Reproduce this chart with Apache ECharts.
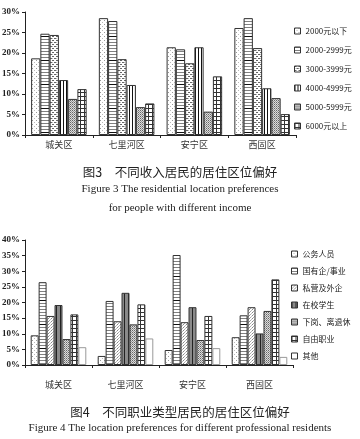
<!DOCTYPE html>
<html>
<head>
<meta charset="utf-8">
<script src="https://cdn.jsdelivr.net/npm/echarts@6/dist/echarts.min.js"></script>
<style>
html,body{margin:0;padding:0;background:#fff;}
#c{width:360px;height:439px;}
</style>
</head>
<body>
<div id="c"></div>
<script>
// ---- data ----
var categories = ['城关区', '七里河区', '安宁区', '西固区'];
var incomeNames = ['2000元以下', '2000-2999元', '3000-3999元', '4000-4999元', '5000-5999元', '6000元以上'];
var income1 = [18.7, 28.5, 21.4, 26.1];
var income2 = [24.7, 27.8, 20.9, 28.5];
var income3 = [24.4, 18.5, 17.5, 21.2];
var income4 = [13.4, 12.2, 21.4, 11.4];
var income5 = [8.8, 6.8, 5.7, 9.0];
var income6 = [11.2, 7.7, 14.3, 5.1];
var jobNames = ['公务人员', '国有企/事业', '私营及外企', '在校学生', '下岗、离退休', '自由职业', '其他'];
var job1 = [9.5, 2.9, 4.8, 8.9];
var job2 = [26.5, 20.5, 35.2, 15.9];
var job3 = [15.7, 14.0, 13.7, 18.5];
var job4 = [19.2, 23.1, 18.5, 10.1];
var job5 = [8.3, 13.0, 8.0, 17.3];
var job6 = [16.2, 19.4, 15.7, 27.4];
var job7 = [5.7, 8.5, 5.4, 2.6];
var incomeTicks = {min: 0, max: 30, interval: 5};
var jobTicks = {min: 0, max: 40, interval: 5};

// ---- patterns ----
function pat(w, h, bg, draw) {
  var c = document.createElement('canvas');
  c.width = w; c.height = h;
  var g = c.getContext('2d');
  g.fillStyle = bg; g.fillRect(0, 0, w, h);
  draw(g);
  return {image: c, repeat: 'repeat'};
}
function px(g, col, x, y, w, h) { g.fillStyle = col; g.fillRect(x, y, w || 1, h || 1); }

var pDots = pat(4, 4, '#fff', function (g) { px(g, '#999', 0, 0); px(g, '#bbb', 2, 2); });
var pHLines = pat(4, 24, '#fff', function (g) {
  for (var y = 0; y < 24; y += 3) px(g, '#808080', 0, y, 4, 1);
  px(g, '#111', 0, 12, 4, 1);
});
var pBrick = pat(4, 4, '#fff', function (g) { px(g, '#666', 0, 0, 2, 1); px(g, '#666', 2, 2, 2, 1); px(g, '#bbb', 0, 2); });
var pVLines = pat(3, 1, '#fff', function (g) { px(g, '#111', 0, 0); });
var pChecker = pat(2, 2, '#dcdcdc', function (g) { px(g, '#666', 0, 0); px(g, '#999', 1, 1); });
var pGrid = pat(4, 4, '#fff', function (g) { px(g, '#333', 0, 0, 4, 1); px(g, '#333', 0, 0, 1, 4); });
var pDots2 = pat(3, 3, '#fff', function (g) { px(g, '#888', 0, 0); px(g, '#aaa', 1, 2); px(g, '#bbb', 2, 1); });
var pGrayV = pat(4, 1, '#8a8a8a', function (g) { px(g, '#222', 0, 0); });
var pWhite = '#ffffff';

var incomeData = [income1, income2, income3, income4, income5, income6];
var incomePats = [pDots, pHLines, pBrick, pVLines, pChecker, pGrid];
var jobData = [job1, job2, job3, job4, job5, job6, job7];
var jobPats = [pDots, pHLines, pDots2, pGrayV, pChecker, pGrid, pWhite];

var series = [];
incomeData.forEach(function (d, i) {
  series.push({
    name: incomeNames[i], type: 'bar', xAxisIndex: 0, yAxisIndex: 0, data: d,
    barGap: '0%', barCategoryGap: '18%', silent: true,
    itemStyle: {color: incomePats[i], borderColor: '#333', borderWidth: 1}
  });
});
jobData.forEach(function (d, i) {
  series.push({
    name: jobNames[i], type: 'bar', xAxisIndex: 1, yAxisIndex: 1, data: d,
    barGap: '0%', barCategoryGap: '17%', silent: true,
    itemStyle: {color: jobPats[i], borderColor: i === 6 ? '#999' : '#333', borderWidth: 1}
  });
});

function xAx(gi, margin) {
  return {
    type: 'category', gridIndex: gi, data: categories,
    axisLine: {lineStyle: {color: '#222', width: 1}},
    axisTick: {show: true, length: 3, lineStyle: {color: '#222'}},
    axisLabel: {margin: margin, fontSize: 9, color: '#333', fontFamily: '"Noto Sans CJK SC"'}
  };
}
function yAx(gi, t) {
  return {
    type: 'value', gridIndex: gi, min: t.min, max: t.max, interval: t.interval,
    splitLine: {show: false},
    axisLine: {show: true, lineStyle: {color: '#222', width: 1}},
    axisTick: {show: true, length: 3, lineStyle: {color: '#222'}},
    axisLabel: {formatter: '{value}%', margin: 5, fontSize: 9, fontWeight: 'bold', color: '#222', fontFamily: '"Liberation Serif"'}
  };
}

var legendText = {fontSize: 8, lineHeight: 10, color: '#222', fontFamily: '"Noto Sans CJK SC"'};
var chart = echarts.init(document.getElementById('c'), null, {renderer: 'canvas'});
chart.setOption({
  animation: false,
  backgroundColor: '#fff',
  grid: [
    {left: 25, top: 12, width: 271, height: 123, containLabel: false, outerBoundsMode: 'none'},
    {left: 25, top: 240, width: 268, height: 125, containLabel: false, outerBoundsMode: 'none'}
  ],
  xAxis: [xAx(0, 5), xAx(1, 15)],
  yAxis: [yAx(0, incomeTicks), yAx(1, jobTicks)],
  legend: [
    {
      data: incomeNames, orient: 'vertical', left: 294, top: 26, itemWidth: 6, itemHeight: 6, itemGap: 9,
      icon: 'rect', selectedMode: false, padding: 0,
      itemStyle: {borderColor: '#333', borderWidth: 1},
      textStyle: legendText
    },
    {
      data: jobNames, orient: 'vertical', left: 291, top: 249, itemWidth: 6, itemHeight: 6, itemGap: 7,
      icon: 'rect', selectedMode: false, padding: 0,
      itemStyle: {borderColor: '#333', borderWidth: 1},
      textStyle: legendText
    }
  ],
  graphic: [
    {type: 'text', left: 'center', top: 166, style: {text: '图3　不同收入居民的居住区位偏好', font: '12.5px "Noto Sans CJK SC"', fill: '#222'}},
    {type: 'text', left: 'center', top: 184, style: {text: 'Figure 3 The residential location preferences', font: '11px "Liberation Serif"', fill: '#222'}},
    {type: 'text', left: 'center', top: 203, style: {text: 'for people with different income', font: '11px "Liberation Serif"', fill: '#222'}},
    {type: 'text', left: 'center', top: 406, style: {text: '图4　不同职业类型居民的居住区位偏好', font: '12.5px "Noto Sans CJK SC"', fill: '#222'}},
    {type: 'text', left: 'center', top: 423, style: {text: 'Figure 4 The location preferences for different professional residents', font: '11px "Liberation Serif"', fill: '#222'}}
  ],
  series: series
});
</script>
</body>
</html>
